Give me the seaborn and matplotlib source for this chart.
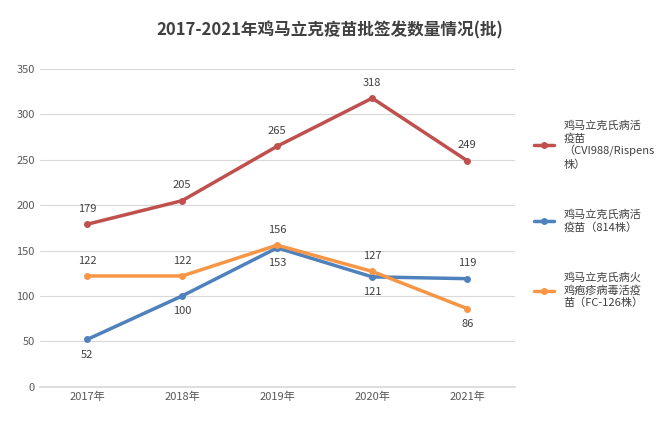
import matplotlib
matplotlib.use("Agg")
import matplotlib.pyplot as plt
import seaborn as sns
import pandas as pd

years = ["2017年", "2018年", "2019年", "2020年", "2021年"]
red_vals = [179, 205, 265, 318, 249]
blue_vals = [52, 100, 153, 121, 119]
orange_vals = [122, 122, 156, 127, 86]
names = ["鸡马立克氏病活\n疫苗\n（CVI988/Rispens\n株）", "鸡马立克氏病活\n疫苗（814株）", "鸡马立克氏病火\n鸡疱疹病毒活疫\n苗（FC-126株）"]
title = "2017-2021年鸡马立克疫苗批签发数量情况(批)"

sns.set_theme(style="white")
plt.rcParams['font.family'] = ['Noto Sans CJK SC', 'DejaVu Sans']

fig = plt.figure(figsize=(6.6, 4.32), dpi=100)
ax = fig.add_axes([0.06, 0.105, 0.72, 0.735])
colors = ["#C0504D", "#4F81BD", "#F79646"]
series = [red_vals, blue_vals, orange_vals]
offs = [[1,1,1,1,1], [-1,-1,-1,-1,1], [1,1,1,1,-1]]
x = list(range(len(years)))
for vals, c, n, of in zip(series, colors, names, offs):
    df = pd.DataFrame({"x": x, "y": vals})
    sns.lineplot(data=df, x="x", y="y", ax=ax, color=c, lw=2.5, marker="o",
                 markersize=5, markeredgewidth=0, label=n)
    for xi, v, o in zip(x, vals, of):
        ax.annotate(str(v), (xi, v), xytext=(0, 11*o), textcoords="offset points",
                    ha="center", va="center", fontsize=8, color="#404040")
ax.set_xlim(-0.5, 4.5)
ax.set_ylim(0, 350)
ax.set_yticks(range(0, 351, 50))
ax.set_xticks(x)
ax.set_xticklabels(years)
ax.tick_params(labelsize=8, colors="#595959", length=0)
ax.set_xlabel(""); ax.set_ylabel("")
ax.grid(axis="y", color="#D9D9D9", lw=0.8)
for s in ["top", "right", "left"]:
    ax.spines[s].set_visible(False)
ax.spines["bottom"].set_color("#D9D9D9")
fig.suptitle(title, x=0.5, y=0.95, fontsize=12, fontweight="bold", color="#404040")
ax.legend(loc="upper left", bbox_to_anchor=(1.02, 0.87), frameon=False,
          fontsize=8, labelspacing=3.6, handlelength=1.8, labelcolor="#404040")
fig.savefig("out.png", dpi=100)
